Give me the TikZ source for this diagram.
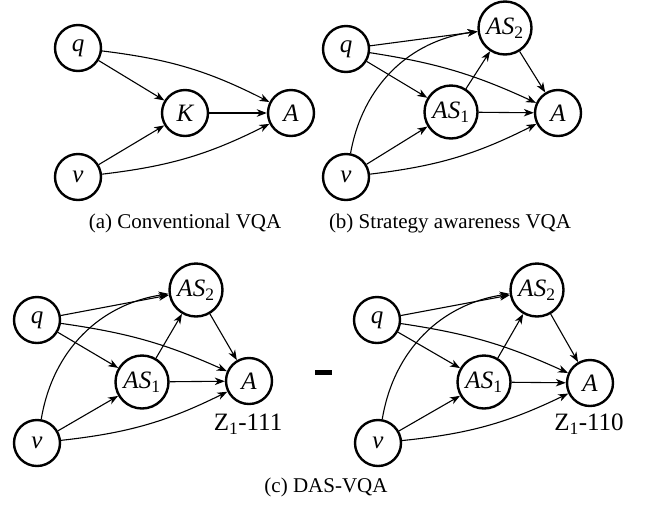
\documentclass[tikz,border=0pt]{standalone}
\usepackage{fontspec}
\setmainfont{Liberation Serif}
\usetikzlibrary{arrows.meta}

\tikzset{
  var/.style={circle, draw, line width=2.4pt, minimum size=46pt, inner sep=0pt,
              font=\fontsize{25}{29}\selectfont\itshape},
  bigvar/.style={var, minimum size=53pt},
  link/.style={line width=1.1pt, -{Stealth[length=10pt,width=7.5pt,inset=3pt]}},
  caption/.style={font=\fontsize{21}{25}\selectfont},
  tag/.style={font=\fontsize{25}{29}\selectfont},
}

\begin{document}
\begin{tikzpicture}[x=1pt, y=-1pt]
\useasboundingbox (0,0) rectangle (647,507);

% ---------- (a) conventional VQA ----------
\node[var] (aq) at (78,48)  {q};
\node[var] (ak) at (185,113) {K};
\node[var] (aa) at (291,113) {A};
\node[var] (av) at (78,177) {v};
\draw[link] (aq) -- (ak);
\draw[link] (av) -- (ak);
\draw[link] (ak) -- (aa);
\draw[link] (aq) to[bend left=10] (aa);
\draw[link] (av) to[bend right=10] (aa);
\node[caption] (capa) at (185,223) {(a) Conventional VQA};

% ---------- (b) strategy awareness VQA ----------
\node[var]    (bq)  at (346,49)  {q};
\node[bigvar] (bs2) at (505,28)  {AS\textsubscript{\upshape 2}};
\node[bigvar] (bs1) at (451,112) {AS\textsubscript{\upshape 1}};
\node[var]    (ba)  at (558,113) {A};
\node[var]    (bv)  at (346,177) {v};
\draw[link] (bq) -- (bs2);
\draw[link] (bq) -- (bs1);
\draw[link] (bq) to[bend left=8] (ba);
\draw[link] (bv) to[bend left=36] (bs2);
\draw[link] (bv) -- (bs1);
\draw[link] (bv) to[bend right=10] (ba);
\draw[link] (bs1) -- (bs2);
\draw[link] (bs1) -- (ba);
\draw[link] (bs2) -- (ba);
\node[caption] (capb) at (450,223) {(b) Strategy awareness VQA};

% ---------- (c) DAS-VQA, left graph ----------
\node[var]    (lq)  at (37,320)  {q};
\node[bigvar] (ls2) at (196,290) {AS\textsubscript{\upshape 2}};
\node[bigvar] (ls1) at (142,382) {AS\textsubscript{\upshape 1}};
\node[var]    (la)  at (249,381) {A};
\node[var]    (lv)  at (37,443)  {v};
\draw[link] (lq) -- (ls2);
\draw[link] (lq) -- (ls1);
\draw[link] (lq) to[bend left=8] (la);
\draw[link] (lv) to[bend left=36] (ls2);
\draw[link] (lv) -- (ls1);
\draw[link] (lv) to[bend right=10] (la);
\draw[link] (ls1) -- (ls2);
\draw[link] (ls1) -- (la);
\draw[link] (ls2) -- (la);
\node[tag] (lz) at (248,424) {Z\textsubscript{1}-111};

% minus sign between the two graphs
\node[fill, minimum width=17pt, minimum height=5pt, inner sep=0pt] (minus) at (323.5,372.5) {};

% ---------- (c) DAS-VQA, right graph ----------
\node[var]    (rq)  at (377,320) {q};
\node[bigvar] (rs2) at (537,290) {AS\textsubscript{\upshape 2}};
\node[bigvar] (rs1) at (484,382) {AS\textsubscript{\upshape 1}};
\node[var]    (ra)  at (590,383) {A};
\node[var]    (rv)  at (378,443) {v};
\draw[link] (rq) -- (rs2);
\draw[link] (rq) -- (rs1);
\draw[link] (rq) to[bend left=8] (ra);
\draw[link] (rv) to[bend left=36] (rs2);
\draw[link] (rv) -- (rs1);
\draw[link] (rv) to[bend right=10] (ra);
\draw[link] (rs1) -- (rs2);
\draw[link] (rs1) -- (ra);
\draw[link] (rs2) -- (ra);
\node[tag] (rz) at (589,424) {Z\textsubscript{1}-110};

\node[caption] (capc) at (326,487) {(c) DAS-VQA};
\end{tikzpicture}
\end{document}
